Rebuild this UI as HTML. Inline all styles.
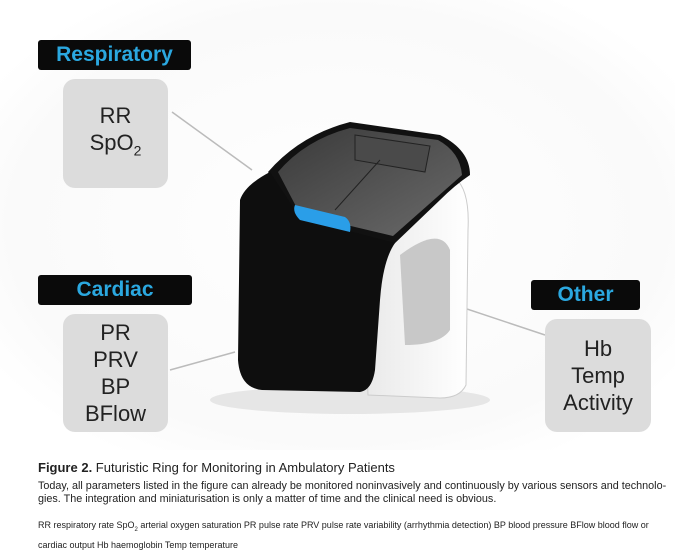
<!DOCTYPE html>
<html><head><meta charset="utf-8"><style>
body{margin:0;background:#fff;width:675px;height:550px;overflow:hidden;position:relative;font-family:"Liberation Sans",sans-serif}
.lab{position:absolute;background:#0a0a0a;color:#2ba8e0;font-weight:bold;font-size:21px;text-align:center;border-radius:3px;line-height:30px}
.box{position:absolute;background:#dcdcdc;border-radius:12px;color:#222;font-size:22px;text-align:center;line-height:27px;display:flex;flex-direction:column;justify-content:center}
.cap{position:absolute;left:38px;font-family:"Liberation Sans Narrow","Liberation Sans",sans-serif;color:#222}
</style></head><body>
<svg width="675" height="450" style="position:absolute;left:0;top:0">
<defs>
<radialGradient id="bg" cx="0.5" cy="0.5" r="0.6"><stop offset="0" stop-color="#fff"/><stop offset="0.8" stop-color="#fafafa"/><stop offset="1" stop-color="#fff"/></radialGradient>
<linearGradient id="top" x1="0" y1="0" x2="1" y2="1"><stop offset="0" stop-color="#3a3a3a"/><stop offset="1" stop-color="#6a6a6a"/></linearGradient>
<linearGradient id="ring" x1="0" y1="0" x2="1" y2="0"><stop offset="0" stop-color="#e8e8e8"/><stop offset="1" stop-color="#fff"/></linearGradient>
</defs>
<rect width="675" height="450" fill="url(#bg)"/>
<ellipse cx="350" cy="400" rx="140" ry="14" fill="#d8d8d8" opacity="0.6"/>
<line x1="172" y1="112" x2="252" y2="170" stroke="#bbb" stroke-width="1.5"/>
<line x1="170" y1="370" x2="235" y2="352" stroke="#bbb" stroke-width="1.5"/>
<line x1="545" y1="335" x2="440" y2="300" stroke="#bbb" stroke-width="1.5"/>
<path d="M360 185 L455 178 Q470 190 468 230 L466 385 Q460 398 440 398 L368 395 Z" fill="url(#ring)" stroke="#ccc"/>
<path d="M400 255 Q440 225 450 250 L450 330 Q440 345 405 345 Z" fill="#c8c8c8"/>
<path d="M268 172 Q300 135 350 122 L440 135 Q470 150 470 175 Q455 185 440 200 L393 245 L300 220 Z" fill="#111"/>
<path d="M278 172 Q305 140 350 128 L438 140 Q460 152 462 175 L393 236 L300 214 Z" fill="url(#top)"/>
<path d="M355 135 L430 146 L425 172 L355 160 Z" fill="#4a4a4a" stroke="#222"/>
<line x1="380" y1="160" x2="335" y2="210" stroke="#222"/>
<path d="M270 172 Q245 185 240 200 L238 360 Q240 388 262 390 L360 392 Q372 390 375 370 L380 300 Q383 260 395 243 L300 218 Z" fill="#0e0e0e"/>
<path d="M295 205 L345 217 Q352 222 350 232 L300 220 Q292 212 295 205 Z" fill="#2a9ee8"/>
</svg>
<div class="lab" style="left:38px;top:40px;width:153px;">Respiratory</div>
<div class="box" style="left:63px;top:79px;width:105px;height:109px;">RR<span>SpO<sub style="font-size:14px">2</sub></span></div>
<div class="lab" style="left:38px;top:275px;width:154px;">Cardiac</div>
<div class="box" style="left:63px;top:314px;width:105px;height:118px;">PR<br>PRV<br>BP<br>BFlow</div>
<div class="lab" style="left:531px;top:280px;width:109px;">Other</div>
<div class="box" style="left:545px;top:319px;width:106px;height:113px;">Hb<br>Temp<br>Activity</div>
<div class="cap" style="top:460px;font-size:13px;"><b>Figure 2.</b> Futuristic Ring for Monitoring in Ambulatory Patients</div>
<div class="cap" style="top:480px;font-size:10.8px;line-height:13px;width:640px;">Today, all parameters listed in the figure can already be monitored noninvasively and continuously by various sensors and technolo-<br>gies. The integration and miniaturisation is only a matter of time and the clinical need is obvious.</div>
<div class="cap" style="top:518px;font-size:9px;line-height:15px;width:640px;">RR respiratory rate SpO<sub style="font-size:6px">2</sub> arterial oxygen saturation PR pulse rate PRV pulse rate variability (arrhythmia detection) BP blood pressure BFlow blood flow or<br>cardiac output Hb haemoglobin Temp temperature</div>
</body></html>
